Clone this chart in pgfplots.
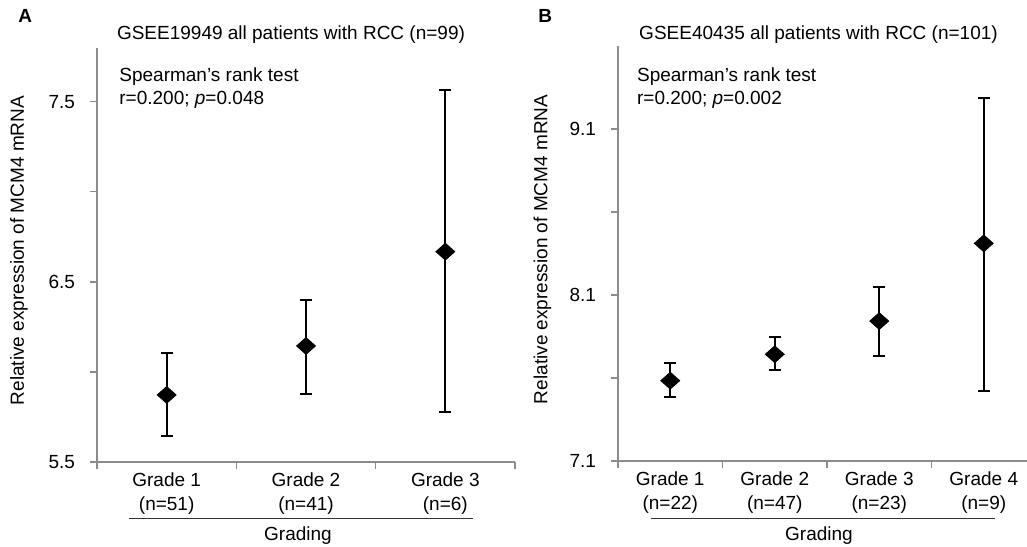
\documentclass[border=0pt]{standalone}
\usepackage{fontspec}
\setmainfont{Liberation Sans}
\usepackage{pgfplots}
\usepackage{pgfplotstable}
\pgfplotsset{compat=1.18}

\pgfplotstableread{
x y ep em
0 5.871 0.231 0.228
1 6.143 0.254 0.269
2 6.667 0.898 0.893
}\dataA
\pgfplotstableread{
x y ep em
0 7.584 0.108 0.100
1 7.743 0.104 0.093
2 7.943 0.207 0.209
3 8.411 0.878 0.888
}\dataB

\newcommand{\fs}{\fontsize{9.5}{12}\selectfont}

\pgfplotsset{
  common/.style={
    scale only axis,
    clip=false,
    axis lines=left,
    axis line style={-, draw=black!45, line width=0.8pt},
    tick align=outside,
    tick style={black!45, line width=0.8pt},
    major tick length=3.5pt,
    minor tick length=3.5pt,
    major x tick style={draw=none},
    font=\fs,
    /pgf/number format/assume math mode=true,
    /pgf/number format/fixed,
    /pgf/number format/precision=1,
    /pgf/number format/fixed zerofill,
    xticklabel style={align=center, font=\fs, yshift=1.5pt},
    yticklabel style={font=\fs, xshift=-4pt},
    ylabel={Relative expression of MCM4 mRNA},
    ylabel style={font=\fs, anchor=center},
  },
  pts/.style={
    only marks,
    mark=diamond*,
    mark size=4.2pt,
    mark options={xscale=1.5, fill=black, draw=black},
    error bars/.cd,
      y dir=both, y explicit,
      error bar style={line width=1.1pt, black},
      error mark options={rotate=90, mark size=3pt, line width=1.1pt, black},
  },
}

\begin{document}
\begin{tikzpicture}
\path[use as bounding box] (0,0) rectangle (513.5pt,273pt);

\begin{axis}[common,
  at={(48.5pt,42.15pt)}, anchor=south west,
  width=209pt, height=207pt,
  xmin=-0.5, xmax=2.5, ymin=5.5, ymax=7.8,
  xtick={0,1,2},
  xticklabels={Grade 1\\(n=51), Grade 2\\(n=41), Grade 3\\(n=6)},
  minor xtick={-0.5,0.5,1.5,2.5},
  ytick={5.5,6,6.5,7,7.5},
  yticklabels={5.5,,6.5,,7.5},
  ylabel style={at={(axis description cs:-0.187,0.51)}},
]
\addplot+[pts] table[x=x, y=y, y error plus=ep, y error minus=em] {\dataA};
\end{axis}

\begin{axis}[common,
  at={(309pt,42.5pt)}, anchor=south west,
  width=204.3pt, height=207.5pt,
  xmin=-0.5, xmax=3.41, ymin=7.1, ymax=9.6,
  xtick={0,1,2,3},
  xticklabels={Grade 1\\(n=22), Grade 2\\(n=47), Grade 3\\(n=23), Grade 4\\(n=9)},
  minor xtick={-0.5,0.5,1.5,2.5},
  ytick={7.1,7.6,8.1,8.6,9.1},
  yticklabels={7.1,,8.1,,9.1},
  ylabel style={at={(axis description cs:-0.185,0.51)}},
]
\addplot+[pts] table[x=x, y=y, y error plus=ep, y error minus=em] {\dataB};
\end{axis}

\begin{scope}[font=\fs]
\node[anchor=base west, inner sep=0pt, font=\fontsize{9.5}{11}\selectfont\bfseries] at (9pt,261.5pt) {A};
\node[anchor=base west, inner sep=0pt, font=\fontsize{9.5}{11}\selectfont\bfseries] at (269pt,261.5pt) {B};
\node[anchor=base, inner sep=0pt] at (145.5pt,253pt) {GSEE19949 all patients with RCC (n=99)};
\node[anchor=base, inner sep=0pt] at (409.25pt,253pt) {GSEE40435 all patients with RCC (n=101)};
\node[anchor=base west, inner sep=0pt] at (59.5pt,232.15pt) {Spearman’s rank test};
\node[anchor=base west, inner sep=0pt] at (59.5pt,220.5pt) {r=0.200; \textit{p}=0.048};
\node[anchor=base west, inner sep=0pt] at (318.35pt,232.15pt) {Spearman’s rank test};
\node[anchor=base west, inner sep=0pt] at (318.35pt,220.5pt) {r=0.200; \textit{p}=0.002};
\draw[black!80, line width=0.5pt] (64.5pt,13.85pt) -- (236.5pt,13.85pt);
\draw[black!80, line width=0.5pt] (325.5pt,13.85pt) -- (497.5pt,13.85pt);
\node[anchor=base, inner sep=0pt] at (149pt,3pt) {Grading};
\node[anchor=base, inner sep=0pt] at (409.5pt,3pt) {Grading};
\end{scope}
\end{tikzpicture}
\end{document}
